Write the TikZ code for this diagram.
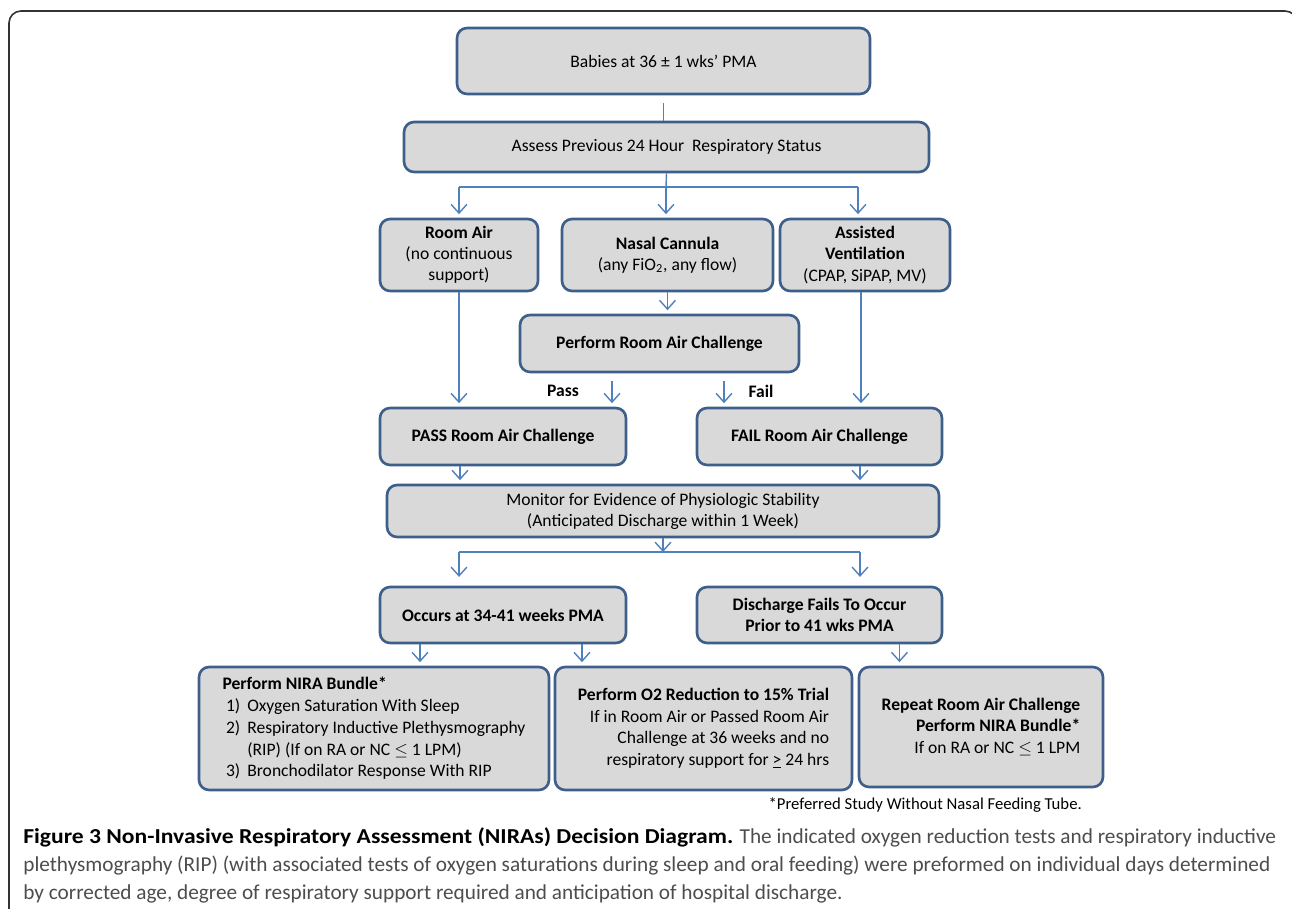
\documentclass[tikz,border=0pt]{standalone}
\usepackage{fontspec}
\setmainfont{Carlito}
\usetikzlibrary{arrows.meta, positioning}

\definecolor{boxgray}{HTML}{D9D9D9}
\definecolor{boxedge}{HTML}{3E5F8A}
\definecolor{linkblue}{HTML}{4F81BD}
\definecolor{capgray}{HTML}{4D4D4D}

\begin{document}
\begin{tikzpicture}[x=0.02cm, y=-0.02cm, >={Straight Barb[length=5pt,width=9pt]},
    box/.style={draw=boxedge, fill=boxgray, line width=1.5pt, rounded corners=0.2cm, align=center, inner sep=0pt, font=\fontsize{10}{12}\selectfont},
    bbox/.style={box, font=\fontsize{10}{12}\selectfont\bfseries},
    link/.style={linkblue, line width=0.8pt},
    arr/.style={link, ->, shorten >=2pt},
    lbl/.style={font=\fontsize{10}{12}\selectfont\bfseries}]
    \useasboundingbox (0,0) rectangle (1292,909);

    % Frame
    \draw[black!80, line width=0.9pt, rounded corners=0.24cm] (9,930) -- (9,11) -- (1297,11) -- (1297,930);

    % Nodes
    \node[box, minimum width=8.26cm, minimum height=1.32cm] (babies) at (663.5,61) {Babies at 36 ± 1 wks’ PMA};
    \node[box, minimum width=10.5cm, minimum height=1cm] (assess) at (666.5,147) {Assess Previous 24 Hour\ \ Respiratory Status};
    \node[box, minimum width=3.16cm, minimum height=1.44cm] (roomair) at (459,255) {\textbf{Room Air}\\(no continuous\\support)};
    \node[box, minimum width=4.22cm, minimum height=1.44cm] (nasal) at (667.5,255) {\textbf{Nasal Cannula}\\(any FiO\textsubscript{2}, any flow)};
    \node[box, minimum width=3.4cm, minimum height=1.44cm] (assisted) at (865,255) {\textbf{Assisted}\\\textbf{Ventilation}\\(CPAP, SiPAP, MV)};
    \node[bbox, minimum width=5.58cm, minimum height=1.14cm] (perform) at (659.5,343.5) {Perform Room Air Challenge};
    \node[bbox, minimum width=4.92cm, minimum height=1.14cm] (pass) at (503,436.5) {PASS Room Air Challenge};
    \node[bbox, minimum width=4.9cm, minimum height=1.14cm] (fail) at (819.5,436.5) {FAIL Room Air Challenge};
    \node[box, minimum width=11.04cm, minimum height=1.04cm] (monitor) at (663,511) {Monitor for Evidence of Physiologic Stability\\(Anticipated Discharge within 1 Week)};
    \node[bbox, minimum width=4.92cm, minimum height=1.12cm] (occurs) at (503,615) {Occurs at 34-41 weeks PMA};
    \node[bbox, minimum width=4.9cm, minimum height=1.12cm] (fails) at (819.5,615) {Discharge Fails To Occur\\Prior to 41 wks PMA};
    \node[box, align=left, minimum width=7cm, minimum height=2.46cm, font=\fontsize{10}{12.4}\selectfont] (nira) at (374,728.5) {\textbf{Perform NIRA Bundle*}\\
        \hspace*{2pt}1)\hspace{4pt}Oxygen Saturation With Sleep\\
        \hspace*{2pt}2)\hspace{4pt}Respiratory Inductive Plethysmography\\
        \hspace*{2pt}\phantom{2)}\hspace{4pt}(RIP) (If on RA or NC $\leq$ 1 LPM)\\
        \hspace*{2pt}3)\hspace{4pt}Bronchodilator Response With RIP};
    \node[box, align=right, minimum width=5.94cm, minimum height=2.46cm, font=\fontsize{10}{12.2}\selectfont] (otwo) at (703.5,728.5) {\textbf{Perform O2 Reduction to 15\% Trial}\\
        If in Room Air or Passed Room Air\\
        Challenge at 36 weeks and no\\
        respiratory support for \underline{>} 24 hrs};
    \node[box, align=right, minimum width=4.88cm, minimum height=2.4cm] (repeat) at (981,727) {\textbf{Repeat Room Air Challenge}\\
        \textbf{Perform NIRA Bundle*}\\
        If on RA or NC $\leq$ 1 LPM};

    % Labels
    \node[lbl] (passlbl) at (563,391) {Pass};
    \node[lbl] (faillbl) at (761,391) {Fail};
    \node[anchor=east, font=\fontsize{9.5}{11}\selectfont] (note) at (1088,805) {*Preferred Study Without Nasal Feeding Tube.};

    % Top split
    \coordinate (splitA) at (666,187);
    \coordinate (splitAl) at (459,187);
    \coordinate (splitAr) at (858,187);
    \draw[link] ([yshift=-0.16cm]babies.south) coordinate (bdown) -- (bdown |- assess.north);
    \draw[link] (assess.south) -- (splitA);
    \draw[link] (splitAl) -- (splitAr);
    \draw[arr] (splitAl) -- (splitAl |- roomair.north);
    \draw[arr] (splitA) -- (splitA |- nasal.north);
    \draw[arr] (splitAr) -- (splitAr |- assisted.north);

    % Challenge
    \draw[arr] (nasal.south) -- (nasal.south |- perform.north);
    \draw[arr] ([xshift=-0.95cm,yshift=-0.16cm]perform.south) coordinate (pdown) -- (pdown |- pass.north);
    \draw[arr] ([xshift=1.29cm,yshift=-0.16cm]perform.south) coordinate (fdown) -- (fdown |- fail.north);
    \draw[arr] (roomair.south) -- (roomair.south |- pass.north);
    \draw[arr] ([xshift=-0.08cm]assisted.south) coordinate (adown) -- (adown |- fail.north);
    \draw[arr] ([xshift=-0.86cm]pass.south) coordinate (qdown) -- (qdown |- monitor.north);
    \draw[arr] ([xshift=0.81cm]fail.south) coordinate (rdown) -- (rdown |- monitor.north);

    % Bottom split
    \coordinate (splitB) at (663,552);
    \coordinate (splitBl) at (459,552);
    \coordinate (splitBr) at (860,552);
    \draw[arr, shorten >=0pt] (monitor.south) -- (splitB);
    \draw[link] (splitBl) -- (splitBr);
    \draw[arr, shorten >=5pt] (splitBl) -- (splitBl |- occurs.north);
    \draw[arr, shorten >=5pt] (splitBr) -- (splitBr |- fails.north);
    \draw[arr] ([xshift=-1.66cm]occurs.south) coordinate (odown) -- (odown |- nira.north);
    \draw[arr] ([xshift=1.58cm]occurs.south) coordinate (tdown) -- (tdown |- otwo.north);
    \draw[arr] ([xshift=1.6cm]fails.south) coordinate (edown) -- (edown |- repeat.north);

    % Caption
    \node[anchor=north west, align=left, inner sep=0pt, text=capgray, font=\fontsize{12.1}{15.9}\selectfont] (caption) at (23,827) {\textcolor{black}{\bfseries\addfontfeatures{FakeStretch=1.11}Figure 3 Non-Invasive Respiratory Assessment (NIRAs) Decision Diagram.} The indicated oxygen reduction tests and respiratory inductive\\
        plethysmography (RIP) (with associated tests of oxygen saturations during sleep and oral feeding) were preformed on individual days determined\\
        by corrected age, degree of respiratory support required and anticipation of hospital discharge.};
\end{tikzpicture}
\end{document}
